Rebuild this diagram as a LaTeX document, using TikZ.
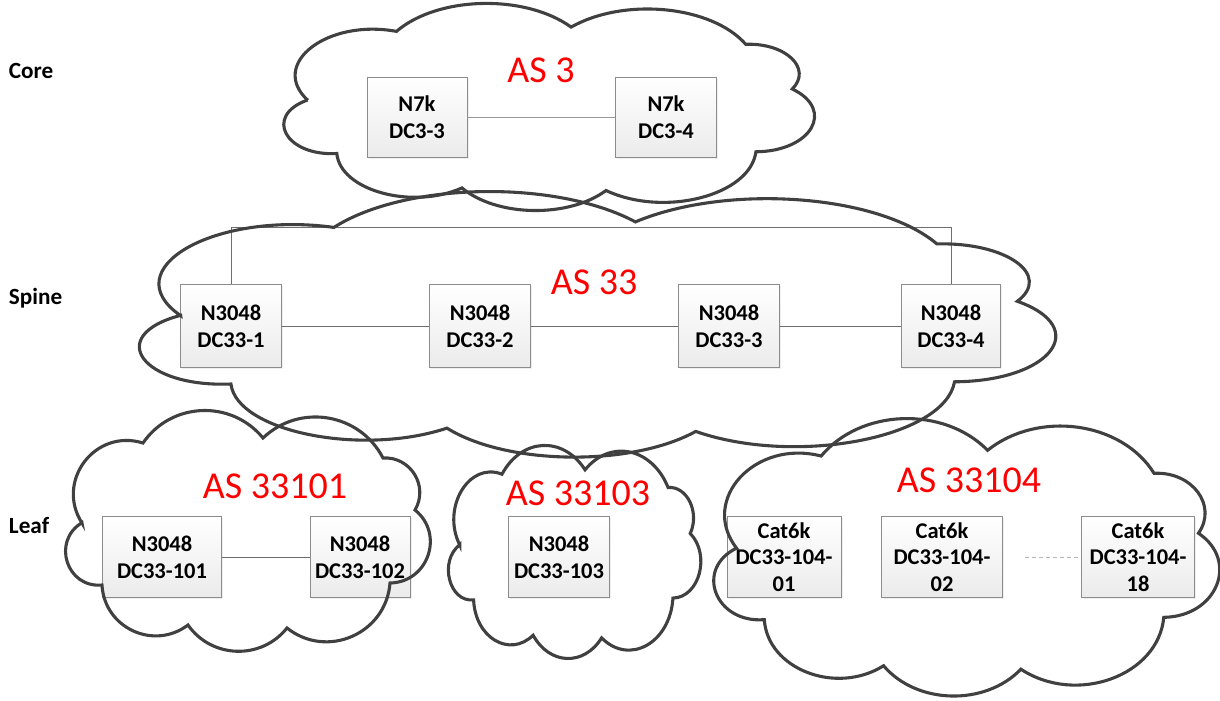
\documentclass[tikz,border=0pt]{standalone}
\usepackage{fontspec}
\setmainfont{Carlito}
\usetikzlibrary{positioning,shadows}
\definecolor{NetCloud}{HTML}{404040}
\definecolor{NetBoxLine}{HTML}{8C8C8C}
\definecolor{NetBoxLow}{HTML}{EBEBEB}
\definecolor{NetLink}{HTML}{6E6E6E}
\definecolor{NetAS}{HTML}{FF0000}
\tikzset{
  netCloud/.style={draw=NetCloud, line width=2.2pt, line join=miter},
  devBox/.style={draw=NetBoxLine, line width=0.6pt, top color=white, bottom color=NetBoxLow,
    align=center, inner sep=0pt, font=\fontsize{16}{19}\selectfont\bfseries,
    drop shadow={shadow xshift=1.2pt, shadow yshift=-1.2pt, fill=black!12}},
  asLbl/.style={text=NetAS, font=\fontsize{27}{30}\selectfont},
  tierLbl/.style={anchor=west, font=\fontsize{16.5}{19}\selectfont\bfseries},
  link/.style={draw=NetLink, line width=0.6pt},
  sz/.style 2 args={minimum width=#1*0.025cm, minimum height=#2*0.025cm},
  % unit cloud, stretched by xscale/yscale
  asCloud/.pic={
    \draw[netCloud] (0.0463,0.4650)
      .. controls (-0.0272,0.2918) and (0.0826,0.0745) .. (0.2125,0.1358)
      .. controls (0.2896,-0.0337) and (0.4531,-0.0440) .. (0.5395,0.1152)
      .. controls (0.6395,-0.0288) and (0.8030,0.0123) .. (0.8665,0.1975)
      .. controls (0.9417,0.1905) and (0.9918,0.3132) .. (0.9537,0.4115)
      .. controls (1.0349,0.5107) and (0.9899,0.7091) .. (0.8856,0.7119)
      .. controls (0.8749,0.9210) and (0.7136,1.0272) .. (0.6049,0.8971)
      .. controls (0.5347,1.0298) and (0.3999,1.0237) .. (0.3351,0.8848)
      .. controls (0.2417,0.9914) and (0.1071,0.8967) .. (0.1008,0.7202)
      .. controls (0.0044,0.7337) and (-0.0371,0.5395) .. cycle;
  },
}

\begin{document}
\begin{tikzpicture}[x=0.025cm, y=-0.025cm]
  \useasboundingbox (0,0) rectangle (1220,700);

  % tiers
  \node[tierLbl] (tcore) at (4,71) {Core};
  \node[tierLbl] (tspine) at (4,298) {Spine};
  \node[tierLbl] (tleaf) at (4,526) {Leaf};

  % core
  \node[devBox, sz={100}{80}] (dc3a) at (417,117) {N7k\\DC3-3};
  \node[devBox, sz={101}{80}] (dc3b) at (666,117) {N7k\\DC3-4};
  \draw[link, draw=NetLink!70] (dc3a) -- (dc3b);

  % spine
  \node[devBox, sz={101}{83}] (sp1) at (231,326) {N3048\\DC33-1};
  \node[devBox, sz={101}{83}] (sp2) at (480,326) {N3048\\DC33-2};
  \node[devBox, sz={101}{83}] (sp3) at (729,326) {N3048\\DC33-3};
  \node[devBox, sz={99}{83}] (sp4) at (951,326) {N3048\\DC33-4};
  \coordinate (spTop) at (591,227);
  \draw[link] (sp1) -- (sp2);
  \draw[link] (sp2) -- (sp3);
  \draw[link] (sp3) -- (sp4);
  \draw[link] (sp1.north) |- (spTop) -| (sp4.north);

  % leaf
  \node[devBox, sz={119}{81}] (lf101) at (162,557) {N3048\\DC33-101};
  \node[devBox, sz={100}{81}] (lf102) at (360,557) {N3048\\DC33-102};
  \node[devBox, sz={101}{81}] (lf103) at (559,557) {N3048\\DC33-103};
  \node[devBox, sz={114}{81}] (cat01) at (784,557) {Cat6k\\DC33-104-\\01};
  \node[devBox, sz={121}{81}] (cat02) at (942,557) {Cat6k\\DC33-104-\\02};
  \node[devBox, sz={113}{81}] (cat18) at (1138,557) {Cat6k\\DC33-104-\\18};
  \draw[link] (lf101) -- (lf102);
  \draw[link, densely dashed, draw=NetLink!50, shorten <=0.55cm] (cat02) -- (cat18);

  % AS clouds
  \pic[xscale=534, yscale=209] (as3) at (283,3) {asCloud};
  \pic[xscale=922, yscale=268] (as33) at (138,191) {asCloud};
  \pic[xscale=367, yscale=243] (as33101) at (65,410) {asCloud};
  \pic[xscale=254, yscale=215] (as33103) at (448,445) {asCloud};
  \pic[xscale=509, yscale=280] (as33104) at (713,418) {asCloud};

  \node[asLbl] (nas3) at (541,70) {AS 3};
  \node[asLbl] (nas33) at (594,282) {AS 33};
  \node[asLbl] (nas33101) at (275,486) {AS 33101};
  \node[asLbl] (nas33103) at (578,493) {AS 33103};
  \node[asLbl] (nas33104) at (969,480) {AS 33104};
\end{tikzpicture}
\end{document}
